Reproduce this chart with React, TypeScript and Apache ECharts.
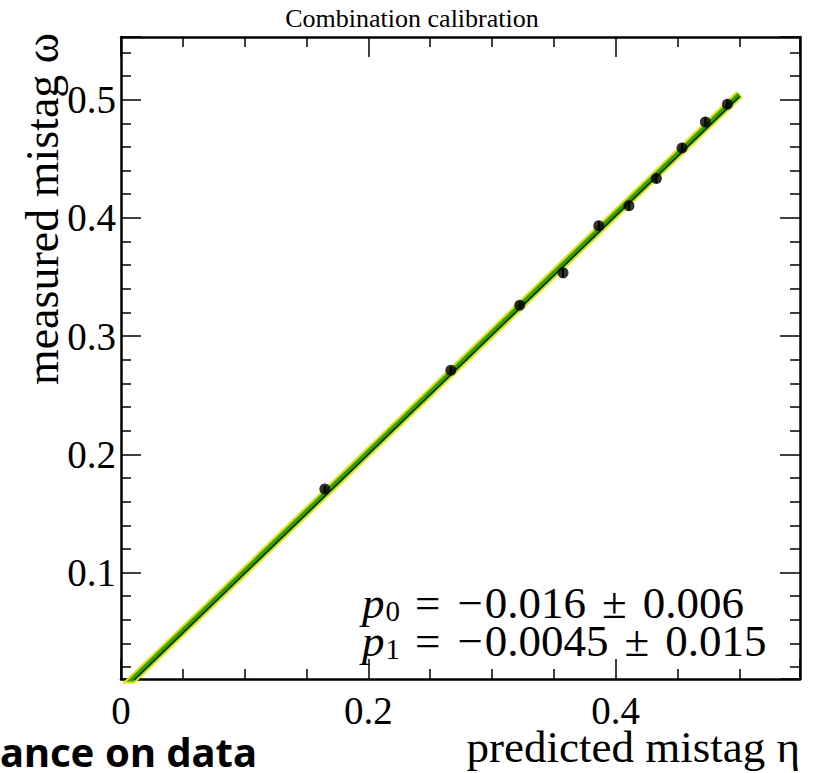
import React, { useEffect, useRef } from "react";
import * as echarts from "echarts";

// measured points (predicted mistag eta, measured mistag omega, error on omega)
const etaValues = [0.1648, 0.2667, 0.3224, 0.3574, 0.3863, 0.4107, 0.4329, 0.4536, 0.4725, 0.4903];
const omegaValues = [0.1706, 0.2712, 0.3262, 0.3535, 0.3933, 0.4102, 0.4334, 0.4592, 0.4812, 0.4962];
const omegaErrors = [0.003, 0.003, 0.003, 0.004, 0.004, 0.004, 0.004, 0.004, 0.004, 0.004];

// calibration fit line end points and its band
const fitEta = [0.0, 0.5];
const fitOmega = [0.0003, 0.5043];
const fitOmegaCentral = [-0.0015, 0.5025];

const xTickLabels = ["0", "0.2", "0.4"];
const yTickLabels = ["0.1", "0.2", "0.3", "0.4", "0.5"];

const titleText = "Combination calibration";
const xTitle = "predicted mistag η";
const yTitle = "measured mistag ω";
const p0Text = "{i|p}{s|0}{eq|=}{mi|−}0.016{pm|±}0.006";
const p1Text = "{i|p}{s|1}{eq|=}{mi|−}0.0045{pm|±}0.015";
const cutText = "ance on data";

const SERIF = "'Liberation Serif', 'Times New Roman', serif";

export default function App() {
  const ref = useRef<HTMLDivElement>(null);
  useEffect(() => {
    if (!ref.current) return;
    const chart = echarts.init(ref.current, undefined, { renderer: "svg" });
    const fmt = (labels: string[]) => (v: number) => {
      const s = String(Math.round(v * 1000) / 1000);
      return labels.indexOf(s) >= 0 ? s : "";
    };
    const tickLine = { color: "#000", width: 1.5 };
    const baseAxis = {
      type: "value" as const,
      splitLine: { show: false },
      axisLine: { show: true, onZero: false, lineStyle: { color: "#000", width: 2.5 } },
      axisTick: { show: true, inside: true, length: 20, lineStyle: tickLine },
      minorTick: { show: true, length: 10, lineStyle: tickLine },
    };
    const xMin = 0, xMax = 0.549, yMin = 0.01, yMax = 0.553;
    const fitRich = {
      i: { fontFamily: SERIF, fontSize: 45, fontStyle: "italic", lineHeight: 38 },
      s: { fontFamily: SERIF, fontSize: 29, verticalAlign: "bottom", padding: [0, 0, 0, 1], lineHeight: 38 },
      eq: { fontFamily: SERIF, fontSize: 45, padding: [0, 17, 0, 15], lineHeight: 38 },
      mi: { fontFamily: SERIF, fontSize: 45, padding: [0, 2, 0, 0], lineHeight: 38 },
      pm: { fontFamily: SERIF, fontSize: 45, padding: [0, 16, 0, 16], lineHeight: 38 },
    };
    const option = {
      animation: false,
      grid: { left: 121, top: 37, right: 20, bottom: 94 },
      xAxis: [
        {
          ...baseAxis,
          position: "bottom",
          min: xMin,
          max: xMax,
          splitNumber: 3,
          minorTick: { ...baseAxis.minorTick, splitNumber: 4 },
          axisLabel: { formatter: fmt(xTickLabels), fontFamily: SERIF, fontSize: 39, color: "#000", margin: 12 },
        },
        {
          ...baseAxis,
          position: "top",
          min: xMin,
          max: xMax,
          splitNumber: 3,
          minorTick: { ...baseAxis.minorTick, splitNumber: 4 },
          axisLabel: { show: false },
        },
      ],
      yAxis: [
        {
          ...baseAxis,
          position: "left",
          min: yMin,
          max: yMax,
          splitNumber: 5,
          minorTick: { ...baseAxis.minorTick, splitNumber: 5 },
          axisLabel: { formatter: fmt(yTickLabels), fontFamily: SERIF, fontSize: 39, color: "#000", margin: 5 },
        },
        {
          ...baseAxis,
          position: "right",
          min: yMin,
          max: yMax,
          splitNumber: 5,
          minorTick: { ...baseAxis.minorTick, splitNumber: 5 },
          axisLabel: { show: false },
        },
      ],
      series: [
        {
          type: "line",
          data: fitEta.map((x, i) => [x, fitOmega[i]]),
          symbol: "none",
          lineStyle: { color: "#e3e300", width: 9 },
          clip: true,
          z: 1,
        },
        {
          type: "line",
          data: fitEta.map((x, i) => [x, fitOmega[i]]),
          symbol: "none",
          lineStyle: { color: "#30a010", width: 5 },
          clip: true,
          z: 2,
        },
        {
          type: "line",
          data: fitEta.map((x, i) => [x, fitOmegaCentral[i]]),
          symbol: "none",
          lineStyle: { color: "#0a2a0a", width: 1.5 },
          clip: true,
          z: 3,
        },
        {
          type: "custom",
          data: etaValues.map((x, i) => [x, omegaValues[i], omegaErrors[i]]),
          renderItem: (params: any, api: any) => {
            const x = api.value(0), y = api.value(1), e = api.value(2);
            const a = api.coord([x, y + e]);
            const b = api.coord([x, y - e]);
            return {
              type: "line",
              shape: { x1: a[0], y1: a[1], x2: b[0], y2: b[1] },
              style: { stroke: "#000", lineWidth: 2 },
            };
          },
          z: 4,
        },
        {
          type: "scatter",
          data: etaValues.map((x, i) => [x, omegaValues[i]]),
          symbol: "circle",
          symbolSize: 11,
          itemStyle: { color: "#000" },
          z: 5,
        },
      ],
      graphic: [
        {
          type: "text",
          x: 412,
          y: 18,
          style: { text: titleText, font: `26px ${SERIF}`, fill: "#000", textAlign: "center", textVerticalAlign: "middle" },
        },
        {
          type: "text",
          x: 42,
          y: 209,
          rotation: Math.PI / 2,
          style: { text: yTitle, font: `46px ${SERIF}`, fill: "#000", textAlign: "center", textVerticalAlign: "middle" },
        },
        {
          type: "text",
          x: 800,
          y: 747,
          style: { text: xTitle, font: `45px ${SERIF}`, fill: "#000", textAlign: "right", textVerticalAlign: "middle" },
        },
        {
          type: "text",
          x: 0,
          y: 751,
          style: {
            text: cutText,
            font: `bold 40px 'Noto Sans', 'Open Sans', sans-serif`,
            fill: "#000",
            textAlign: "left",
            textVerticalAlign: "middle",
          },
        },
        {
          type: "text",
          x: 362,
          y: 603,
          style: {
            text: p0Text,
            font: `45px ${SERIF}`,
            fill: "#000",
            textAlign: "left",
            textVerticalAlign: "middle",
            rich: fitRich,
          },
        },
        {
          type: "text",
          x: 362,
          y: 641,
          style: {
            text: p1Text,
            font: `45px ${SERIF}`,
            fill: "#000",
            textAlign: "left",
            textVerticalAlign: "middle",
            rich: fitRich,
          },
        },
      ],
    };
    chart.setOption(option as any);
    return () => chart.dispose();
  }, []);
  return <div ref={ref} style={{ position: "absolute", left: 0, top: 0, width: 820, height: 773 }} />;
}
